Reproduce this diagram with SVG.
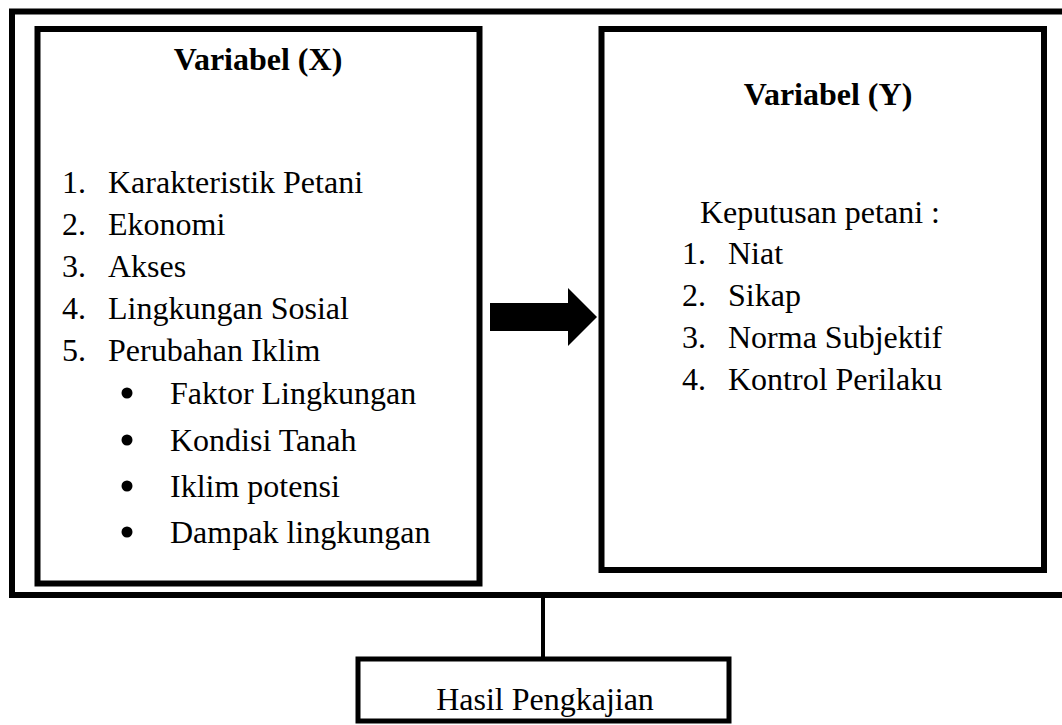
<svg xmlns="http://www.w3.org/2000/svg" width="1062" height="725" viewBox="0 0 1062 725">
<style>
.box{fill:none;stroke:#000;stroke-width:6}
.t{font-family:"Liberation Serif","Times New Roman",serif;font-size:32px;fill:#000}
.b{font-weight:bold}
.c{text-anchor:middle}
.dot{fill:#000}
</style>
<rect x="0" y="0" width="1062" height="725" fill="#fff"/>
<g id="frame">
<path class="box" d="M1070,11.5 H12 V595 H1070"/>
</g>
<g id="varX">
<rect class="box" x="37.5" y="29" width="442" height="554.5"/>
<text class="t b c" x="258" y="70">Variabel (X)</text>
<text class="t" x="62" y="193">1.</text><text class="t" x="108" y="193">Karakteristik Petani</text>
<text class="t" x="62" y="235">2.</text><text class="t" x="108" y="235">Ekonomi</text>
<text class="t" x="62" y="277">3.</text><text class="t" x="108" y="277">Akses</text>
<text class="t" x="62" y="319">4.</text><text class="t" x="108" y="319">Lingkungan Sosial</text>
<text class="t" x="62" y="361">5.</text><text class="t" x="108" y="361">Perubahan Iklim</text>
<circle class="dot" cx="127" cy="393" r="5.5"/><text class="t" x="170" y="404">Faktor Lingkungan</text>
<circle class="dot" cx="127" cy="440" r="5.5"/><text class="t" x="170" y="451">Kondisi Tanah</text>
<circle class="dot" cx="127" cy="486" r="5.5"/><text class="t" x="170" y="497">Iklim potensi</text>
<circle class="dot" cx="127" cy="532" r="5.5"/><text class="t" x="170" y="543">Dampak lingkungan</text>
</g>
<g id="varY">
<rect class="box" x="601.5" y="29" width="442.5" height="541"/>
<text class="t b c" x="828" y="105">Variabel (Y)</text>
<text class="t" x="700" y="223">Keputusan petani :</text>
<text class="t" x="682" y="264">1.</text><text class="t" x="728" y="264">Niat</text>
<text class="t" x="682" y="306">2.</text><text class="t" x="728" y="306">Sikap</text>
<text class="t" x="682" y="348">3.</text><text class="t" x="728" y="348">Norma Subjektif</text>
<text class="t" x="682" y="390">4.</text><text class="t" x="728" y="390">Kontrol Perilaku</text>
</g>
<g id="hasil">
<rect class="box" x="358" y="659" width="371" height="62" style="stroke-width:5"/>
<text class="t c" x="545" y="710">Hasil Pengkajian</text>
</g>
<g id="connectors">
<polygon points="490,303 568,303 568,288 597,317 568,346 568,331 490,331" fill="#000"/>
<line x1="543" y1="598" x2="543" y2="657" stroke="#000" stroke-width="4"/>
</g>
</svg>
